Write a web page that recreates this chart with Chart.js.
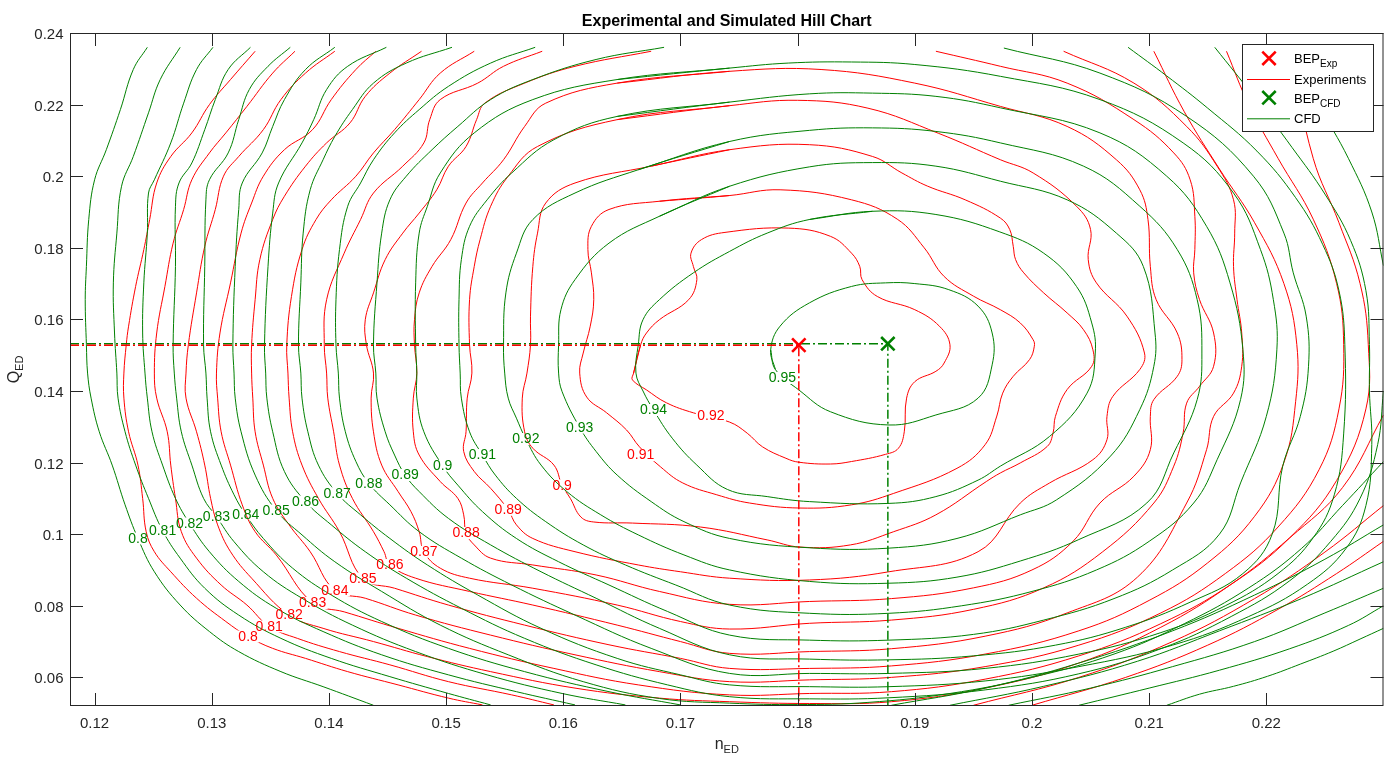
<!DOCTYPE html>
<html>
<head>
<meta charset="utf-8">
<script src="https://cdn.jsdelivr.net/npm/chart.js@4.4.1/dist/chart.umd.min.js"></script>
<style>
  html, body { margin: 0; padding: 0; background: #ffffff; }
  canvas { display: block; }
</style>
</head>
<body>
<canvas id="hill" width="1388" height="758"></canvas>
<script>
// ---------- axis ticks ----------
const xTicks = [0.12, 0.13, 0.14, 0.15, 0.16, 0.17, 0.18, 0.19, 0.20, 0.21, 0.22];
const yTicks = [0.06, 0.08, 0.10, 0.12, 0.14, 0.16, 0.18, 0.20, 0.22, 0.24];

// ---------- best efficiency points [nED, QED] ----------
const bepExp = [0.1801, 0.1528];
const bepCfd = [0.1877, 0.1532];

// ---------- contour levels ----------
const levelsCfd = [0.80, 0.81, 0.82, 0.83, 0.84, 0.85, 0.86, 0.87, 0.88, 0.89, 0.90, 0.91, 0.92, 0.93, 0.94, 0.95];
const levelsExp = [0.80, 0.81, 0.82, 0.83, 0.84, 0.85, 0.86, 0.87, 0.88, 0.89, 0.90, 0.91, 0.92];

// ---------- CFD efficiency contours: list of segments of [nED, QED] ----------
const cfd80 = [
  [[0.1245,0.2360],[0.1233,0.2298],[0.1222,0.2186],[0.1210,0.2074],[0.1200,0.1990],[0.1195,0.1879],[0.1193,0.1748],[0.1192,0.1655],[0.1193,0.1529],[0.1194,0.1450],[0.1197,0.1380],[0.1204,0.1286],[0.1215,0.1193],[0.1226,0.1082],[0.1237,0.0988],[0.1251,0.0895],[0.1273,0.0802],[0.1298,0.0728],[0.1323,0.0672],[0.1359,0.0616],[0.1395,0.0574],[0.1438,0.0522]],
  [[0.2115,0.0522],[0.2143,0.0553],[0.2172,0.0575],[0.2201,0.0603],[0.2229,0.0637],[0.2257,0.0673],[0.2280,0.0707],[0.2300,0.0737]]
];
const cfd81 = [
  [[0.1273,0.2360],[0.1256,0.2270],[0.1246,0.2177],[0.1233,0.2055],[0.1223,0.1972],[0.1219,0.1841],[0.1216,0.1702],[0.1217,0.1562],[0.1219,0.1450],[0.1220,0.1380],[0.1226,0.1286],[0.1235,0.1193],[0.1246,0.1100],[0.1258,0.1010],[0.1273,0.0933],[0.1294,0.0849],[0.1323,0.0774],[0.1359,0.0709],[0.1402,0.0653],[0.1452,0.0602],[0.1502,0.0555],[0.1538,0.0523]],
  [[0.2040,0.0522],[0.2100,0.0570],[0.2160,0.0620],[0.2220,0.0680],[0.2270,0.0745],[0.2300,0.0800]]
];
const cfd82 = [
  [[0.1301,0.2360],[0.1287,0.2298],[0.1276,0.2204],[0.1265,0.2093],[0.1251,0.1990],[0.1246,0.1953],[0.1245,0.1841],[0.1242,0.1702],[0.1241,0.1562],[0.1243,0.1450],[0.1245,0.1380],[0.1249,0.1286],[0.1258,0.1193],[0.1269,0.1100],[0.1281,0.1030],[0.1298,0.0951],[0.1323,0.0868],[0.1355,0.0793],[0.1395,0.0728],[0.1445,0.0663],[0.1502,0.0607],[0.1560,0.0560],[0.1610,0.0523]],
  [[0.1980,0.0522],[0.2050,0.0570],[0.2120,0.0630],[0.2190,0.0700],[0.2250,0.0780],[0.2300,0.0849]]
];
const cfd83 = [
  [[0.1333,0.2360],[0.1314,0.2298],[0.1303,0.2214],[0.1294,0.2130],[0.1283,0.2037],[0.1272,0.1981],[0.1269,0.1916],[0.1269,0.1748],[0.1267,0.1529],[0.1268,0.1450],[0.1270,0.1380],[0.1274,0.1286],[0.1283,0.1193],[0.1293,0.1100],[0.1304,0.1049],[0.1319,0.0979],[0.1344,0.0895],[0.1377,0.0821],[0.1420,0.0746],[0.1474,0.0672],[0.1535,0.0607],[0.1599,0.0555],[0.1653,0.0523]],
  [[0.1930,0.0522],[0.2010,0.0575],[0.2090,0.0645],[0.2160,0.0730],[0.2230,0.0820],[0.2300,0.0923]]
];
const cfd84 = [
  [[0.1367,0.2360],[0.1348,0.2307],[0.1332,0.2242],[0.1323,0.2158],[0.1314,0.2065],[0.1298,0.1990],[0.1295,0.1934],[0.1294,0.1748],[0.1293,0.1529],[0.1295,0.1450],[0.1296,0.1380],[0.1299,0.1286],[0.1308,0.1193],[0.1319,0.1110],[0.1329,0.1054],[0.1344,0.0988],[0.1369,0.0905],[0.1402,0.0830],[0.1445,0.0756],[0.1502,0.0681],[0.1567,0.0616],[0.1639,0.0560],[0.1700,0.0523]],
  [[0.1880,0.0522],[0.1960,0.0570],[0.2040,0.0640],[0.2120,0.0730],[0.2190,0.0830],[0.2250,0.0930],[0.2300,0.1026]]
];
const cfd85 = [
  [[0.1405,0.2360],[0.1380,0.2298],[0.1362,0.2214],[0.1352,0.2139],[0.1343,0.2065],[0.1326,0.1981],[0.1323,0.1907],[0.1320,0.1748],[0.1318,0.1529],[0.1319,0.1450],[0.1320,0.1380],[0.1325,0.1286],[0.1337,0.1165],[0.1355,0.1066],[0.1377,0.0998],[0.1405,0.0923],[0.1445,0.0840],[0.1495,0.0746],[0.1553,0.0663],[0.1617,0.0588],[0.1682,0.0541],[0.1742,0.0528],[0.1800,0.0524],[0.1860,0.0530],[0.1930,0.0555],[0.2000,0.0600],[0.2070,0.0665],[0.2130,0.0750],[0.2185,0.0850],[0.2230,0.0960],[0.2265,0.1080],[0.2300,0.1203]]
];
const cfd86 = [
  [[0.1449,0.2360],[0.1416,0.2307],[0.1398,0.2242],[0.1387,0.2158],[0.1377,0.2093],[0.1357,0.1981],[0.1352,0.1897],[0.1348,0.1748],[0.1345,0.1529],[0.1346,0.1450],[0.1347,0.1380],[0.1352,0.1286],[0.1362,0.1175],[0.1380,0.1091],[0.1402,0.1026],[0.1431,0.0951],[0.1466,0.0877],[0.1513,0.0793],[0.1567,0.0709],[0.1628,0.0635],[0.1689,0.0579],[0.1742,0.0546],[0.1810,0.0540],[0.1878,0.0543],[0.1960,0.0565],[0.2040,0.0610],[0.2110,0.0680],[0.2170,0.0770],[0.2220,0.0870],[0.2255,0.0980],[0.2280,0.1100],[0.2295,0.1250],[0.2300,0.1400]],
  [[0.2300,0.1750],[0.2290,0.1900],[0.2270,0.2050],[0.2245,0.2200],[0.2222,0.2360]]
];
const cfd87 = [
  [[0.1505,0.2360],[0.1466,0.2316],[0.1438,0.2260],[0.1420,0.2186],[0.1405,0.2111],[0.1395,0.2046],[0.1384,0.1962],[0.1378,0.1841],[0.1376,0.1702],[0.1374,0.1529],[0.1376,0.1450],[0.1377,0.1380],[0.1382,0.1286],[0.1391,0.1193],[0.1407,0.1114],[0.1427,0.1054],[0.1452,0.0988],[0.1484,0.0914],[0.1527,0.0830],[0.1581,0.0737],[0.1646,0.0653],[0.1700,0.0607],[0.1742,0.0579],[0.1810,0.0574],[0.1878,0.0574],[0.1960,0.0590],[0.2040,0.0630],[0.2120,0.0690],[0.2185,0.0770],[0.2235,0.0860],[0.2268,0.0960],[0.2285,0.1080],[0.2290,0.1250],[0.2288,0.1400],[0.2288,0.1530],[0.2285,0.1680],[0.2272,0.1820],[0.2250,0.1950],[0.2222,0.2080],[0.2190,0.2220],[0.2156,0.2360]]
];
const cfd88 = [
  [[0.1576,0.2360],[0.1538,0.2316],[0.1502,0.2251],[0.1477,0.2186],[0.1456,0.2121],[0.1438,0.2046],[0.1427,0.1981],[0.1416,0.1916],[0.1409,0.1795],[0.1406,0.1655],[0.1406,0.1529],[0.1408,0.1450],[0.1409,0.1380],[0.1414,0.1286],[0.1423,0.1203],[0.1434,0.1142],[0.1452,0.1082],[0.1477,0.1007],[0.1513,0.0933],[0.1556,0.0858],[0.1610,0.0774],[0.1675,0.0681],[0.1742,0.0611],[0.1810,0.0611],[0.1878,0.0611],[0.1960,0.0625],[0.2040,0.0665],[0.2110,0.0725],[0.2165,0.0800],[0.2210,0.0890],[0.2240,0.0990],[0.2258,0.1110],[0.2266,0.1280],[0.2267,0.1530],[0.2262,0.1680],[0.2248,0.1810],[0.2225,0.1940],[0.2192,0.2070],[0.2150,0.2190],[0.2115,0.2280],[0.2082,0.2360]]
];
const cfd89 = [
  [[0.1686,0.2360],[0.1628,0.2326],[0.1574,0.2270],[0.1538,0.2214],[0.1510,0.2139],[0.1488,0.2074],[0.1466,0.2000],[0.1452,0.1934],[0.1445,0.1841],[0.1441,0.1702],[0.1438,0.1529],[0.1440,0.1450],[0.1441,0.1380],[0.1448,0.1286],[0.1456,0.1221],[0.1465,0.1165],[0.1477,0.1119],[0.1502,0.1044],[0.1538,0.0970],[0.1581,0.0895],[0.1628,0.0821],[0.1682,0.0737],[0.1742,0.0663],[0.1810,0.0651],[0.1878,0.0649],[0.1950,0.0660],[0.2020,0.0690],[0.2080,0.0740],[0.2135,0.0810],[0.2180,0.0890],[0.2205,0.1000],[0.2214,0.1190],[0.2229,0.1329],[0.2236,0.1469],[0.2234,0.1609],[0.2223,0.1730],[0.2215,0.1841],[0.2189,0.2000],[0.2132,0.2167],[0.2058,0.2288],[0.1976,0.2358]]
];
const cfd90 = [
  [[0.1742,0.2302],[0.1646,0.2270],[0.1574,0.2214],[0.1524,0.2121],[0.1495,0.2009],[0.1484,0.1916],[0.1477,0.1841],[0.1474,0.1702],[0.1474,0.1529],[0.1475,0.1450],[0.1475,0.1380],[0.1481,0.1286],[0.1497,0.1191],[0.1510,0.1137],[0.1531,0.1063],[0.1560,0.0988],[0.1596,0.0923],[0.1639,0.0858],[0.1689,0.0784],[0.1742,0.0718],[0.1810,0.0704],[0.1878,0.0704],[0.1950,0.0720],[0.2010,0.0760],[0.2070,0.0820],[0.2120,0.0900],[0.2160,0.1000],[0.2178,0.1143],[0.2200,0.1329],[0.2209,0.1515],[0.2206,0.1655],[0.2195,0.1795],[0.2172,0.1953],[0.2129,0.2093],[0.2058,0.2214],[0.1973,0.2279],[0.1900,0.2312],[0.1846,0.2319],[0.1792,0.2316],[0.1742,0.2302],[0.1646,0.2270]]
];
const cfd91 = [
  [[0.1742,0.2207],[0.1646,0.2167],[0.1592,0.2102],[0.1556,0.2009],[0.1535,0.1934],[0.1520,0.1860],[0.1513,0.1767],[0.1511,0.1655],[0.1511,0.1529],[0.1512,0.1450],[0.1513,0.1380],[0.1520,0.1286],[0.1531,0.1221],[0.1542,0.1165],[0.1560,0.1100],[0.1585,0.1035],[0.1617,0.0970],[0.1653,0.0914],[0.1696,0.0858],[0.1742,0.0802],[0.1810,0.0779],[0.1878,0.0779],[0.1940,0.0800],[0.2000,0.0840],[0.2055,0.0900],[0.2100,0.0980],[0.2138,0.1087],[0.2158,0.1208],[0.2178,0.1376],[0.2180,0.1515],[0.2169,0.1702],[0.2149,0.1860],[0.2115,0.2000],[0.2058,0.2121],[0.1973,0.2191],[0.1918,0.2223],[0.1864,0.2232],[0.1810,0.2230],[0.1742,0.2207],[0.1646,0.2167]]
];
const cfd92 = [
  [[0.1742,0.2097],[0.1664,0.2018],[0.1610,0.1953],[0.1574,0.1879],[0.1560,0.1785],[0.1551,0.1674],[0.1549,0.1529],[0.1550,0.1450],[0.1553,0.1380],[0.1560,0.1324],[0.1568,0.1266],[0.1581,0.1193],[0.1603,0.1119],[0.1632,0.1054],[0.1664,0.0998],[0.1703,0.0942],[0.1742,0.0900],[0.1810,0.0868],[0.1878,0.0863],[0.1936,0.0880],[0.1990,0.0925],[0.2040,0.0985],[0.2098,0.1087],[0.2121,0.1227],[0.2141,0.1376],[0.2145,0.1506],[0.2141,0.1655],[0.2124,0.1795],[0.2092,0.1916],[0.2044,0.2028],[0.1973,0.2093],[0.1918,0.2125],[0.1864,0.2135],[0.1810,0.2128],[0.1742,0.2097],[0.1664,0.2018]]
];
const cfd93 = [
  [[0.1742,0.1972],[0.1682,0.1888],[0.1639,0.1813],[0.1610,0.1711],[0.1598,0.1627],[0.1596,0.1529],[0.1596,0.1450],[0.1599,0.1398],[0.1614,0.1298],[0.1628,0.1231],[0.1646,0.1165],[0.1675,0.1091],[0.1703,0.1035],[0.1742,0.0988],[0.1810,0.0962],[0.1878,0.0961],[0.1936,0.0988],[0.1990,0.1054],[0.2021,0.1096],[0.2067,0.1218],[0.2092,0.1348],[0.2104,0.1469],[0.2105,0.1562],[0.2095,0.1748],[0.2072,0.1841],[0.2030,0.1934],[0.1973,0.1986],[0.1918,0.2028],[0.1864,0.2038],[0.1810,0.2026],[0.1742,0.1972],[0.1682,0.1888]]
];
const cfd94 = [
  [[0.1810,0.1879],[0.1864,0.1902],[0.1918,0.1893],[0.1972,0.1845],[0.2010,0.1785],[0.2038,0.1692],[0.2051,0.1590],[0.2054,0.1506],[0.2047,0.1394],[0.2015,0.1273],[0.1973,0.1190],[0.1954,0.1151],[0.1918,0.1105],[0.1878,0.1086],[0.1810,0.1091],[0.1774,0.1105],[0.1740,0.1125],[0.1714,0.1193],[0.1693,0.1268],[0.1677,0.1347],[0.1668,0.1400],[0.1662,0.1450],[0.1664,0.1529],[0.1668,0.1599],[0.1682,0.1655],[0.1711,0.1730],[0.1742,0.1790],[0.1774,0.1841],[0.1810,0.1879],[0.1864,0.1902]]
];
const cfd95 = [
  [[0.1777,0.1515],[0.1781,0.1460],[0.1801,0.1403],[0.1828,0.1342],[0.1878,0.1305],[0.1918,0.1333],[0.1954,0.1380],[0.1966,0.1473],[0.1966,0.1562],[0.1954,0.1637],[0.1929,0.1683],[0.1900,0.1700],[0.1875,0.1702],[0.1846,0.1692],[0.1810,0.1646],[0.1785,0.1581],[0.1777,0.1515],[0.1781,0.1460]]
];

// ---------- experimental efficiency contours ----------
const exp80 = [
  [[0.1337,0.2349],[0.1316,0.2270],[0.1298,0.2200],[0.1283,0.2121],[0.1265,0.2055],[0.1253,0.1981],[0.1247,0.1879],[0.1242,0.1795],[0.1235,0.1692],[0.1229,0.1581],[0.1227,0.1529],[0.1225,0.1450],[0.1225,0.1380],[0.1229,0.1286],[0.1237,0.1193],[0.1241,0.1100],[0.1244,0.1007],[0.1251,0.0951],[0.1265,0.0895],[0.1287,0.0821],[0.1312,0.0756],[0.1331,0.0714],[0.1352,0.0681],[0.1380,0.0653],[0.1416,0.0616],[0.1459,0.0579],[0.1502,0.0542],[0.1531,0.0523]],
  [[0.2000,0.0522],[0.2080,0.0600],[0.2150,0.0690],[0.2210,0.0790],[0.2260,0.0890],[0.2300,0.0980]]
];
const exp81 = [
  [[0.1371,0.2349],[0.1352,0.2288],[0.1330,0.2195],[0.1312,0.2121],[0.1298,0.2065],[0.1283,0.1990],[0.1276,0.1907],[0.1267,0.1813],[0.1260,0.1692],[0.1253,0.1562],[0.1251,0.1450],[0.1253,0.1380],[0.1262,0.1286],[0.1265,0.1193],[0.1269,0.1100],[0.1274,0.1007],[0.1287,0.0933],[0.1308,0.0858],[0.1330,0.0802],[0.1349,0.0742],[0.1373,0.0709],[0.1409,0.0672],[0.1452,0.0635],[0.1502,0.0588],[0.1556,0.0551],[0.1592,0.0523]],
  [[0.1950,0.0522],[0.2040,0.0600],[0.2120,0.0700],[0.2190,0.0820],[0.2250,0.0950],[0.2300,0.1080]]
];
const exp82 = [
  [[0.1405,0.2349],[0.1380,0.2288],[0.1359,0.2214],[0.1344,0.2130],[0.1323,0.2055],[0.1310,0.2000],[0.1303,0.1907],[0.1294,0.1804],[0.1287,0.1674],[0.1280,0.1529],[0.1278,0.1450],[0.1278,0.1380],[0.1287,0.1286],[0.1294,0.1193],[0.1299,0.1100],[0.1305,0.1026],[0.1316,0.0951],[0.1334,0.0877],[0.1366,0.0774],[0.1395,0.0737],[0.1438,0.0700],[0.1484,0.0658],[0.1538,0.0616],[0.1610,0.0570],[0.1682,0.0542],[0.1742,0.0532],[0.1810,0.0527],[0.1880,0.0532],[0.1960,0.0570],[0.2040,0.0640],[0.2110,0.0740],[0.2170,0.0860],[0.2220,0.0990],[0.2265,0.1130],[0.2300,0.1333]]
];
const exp83 = [
  [[0.1440,0.2349],[0.1423,0.2298],[0.1402,0.2214],[0.1386,0.2130],[0.1362,0.2074],[0.1344,0.2000],[0.1334,0.1925],[0.1325,0.1841],[0.1316,0.1702],[0.1307,0.1562],[0.1304,0.1450],[0.1305,0.1380],[0.1308,0.1286],[0.1316,0.1193],[0.1326,0.1082],[0.1337,0.1007],[0.1355,0.0942],[0.1386,0.0808],[0.1413,0.0783],[0.1459,0.0737],[0.1520,0.0681],[0.1592,0.0625],[0.1664,0.0579],[0.1742,0.0551],[0.1810,0.0555],[0.1880,0.0560],[0.1960,0.0595],[0.2040,0.0660],[0.2110,0.0750],[0.2170,0.0860],[0.2220,0.0990],[0.2260,0.1150],[0.2285,0.1350],[0.2287,0.1530],[0.2280,0.1700],[0.2262,0.1870],[0.2240,0.2050],[0.2220,0.2349]]
];
const exp84 = [
  [[0.1479,0.2349],[0.1452,0.2288],[0.1431,0.2223],[0.1418,0.2149],[0.1398,0.2093],[0.1380,0.2028],[0.1362,0.1944],[0.1352,0.1879],[0.1341,0.1767],[0.1337,0.1655],[0.1334,0.1529],[0.1334,0.1450],[0.1335,0.1380],[0.1337,0.1286],[0.1344,0.1193],[0.1352,0.1100],[0.1366,0.1026],[0.1384,0.0951],[0.1405,0.0843],[0.1431,0.0821],[0.1474,0.0774],[0.1538,0.0718],[0.1610,0.0663],[0.1682,0.0616],[0.1742,0.0588],[0.1810,0.0593],[0.1880,0.0600],[0.1960,0.0630],[0.2040,0.0690],[0.2110,0.0780],[0.2165,0.0890],[0.2210,0.1020],[0.2245,0.1180],[0.2262,0.1350],[0.2266,0.1530],[0.2260,0.1700],[0.2240,0.1880],[0.2210,0.2050],[0.2185,0.2200],[0.2166,0.2349]]
];
const exp85 = [
  [[0.1524,0.2349],[0.1495,0.2288],[0.1477,0.2214],[0.1456,0.2130],[0.1438,0.2065],[0.1423,0.2000],[0.1402,0.1934],[0.1389,0.1879],[0.1377,0.1795],[0.1368,0.1664],[0.1364,0.1529],[0.1365,0.1450],[0.1366,0.1380],[0.1369,0.1286],[0.1377,0.1193],[0.1391,0.1100],[0.1409,0.1007],[0.1429,0.0876],[0.1456,0.0849],[0.1502,0.0802],[0.1567,0.0746],[0.1639,0.0691],[0.1700,0.0653],[0.1742,0.0625],[0.1810,0.0625],[0.1880,0.0632],[0.1960,0.0665],[0.2040,0.0730],[0.2100,0.0815],[0.2150,0.0920],[0.2190,0.1050],[0.2215,0.1200],[0.2225,0.1370],[0.2226,0.1530],[0.2215,0.1700],[0.2190,0.1870],[0.2160,0.2020],[0.2130,0.2180],[0.2104,0.2349]]
];
const exp86 = [
  [[0.1582,0.2349],[0.1549,0.2307],[0.1527,0.2260],[0.1495,0.2214],[0.1486,0.2158],[0.1481,0.2093],[0.1463,0.2028],[0.1438,0.1953],[0.1427,0.1879],[0.1413,0.1785],[0.1398,0.1655],[0.1396,0.1529],[0.1398,0.1450],[0.1399,0.1380],[0.1404,0.1286],[0.1409,0.1193],[0.1420,0.1100],[0.1438,0.1007],[0.1447,0.0951],[0.1452,0.0914],[0.1474,0.0877],[0.1520,0.0840],[0.1574,0.0802],[0.1646,0.0746],[0.1700,0.0700],[0.1742,0.0667],[0.1810,0.0672],[0.1880,0.0680],[0.1960,0.0715],[0.2030,0.0780],[0.2090,0.0880],[0.2132,0.1087],[0.2149,0.1236],[0.2155,0.1329],[0.2172,0.1394],[0.2179,0.1469],[0.2179,0.1562],[0.2175,0.1655],[0.2172,0.1748],[0.2173,0.1841],[0.2172,0.1934],[0.2158,0.2028],[0.2132,0.2139],[0.2087,0.2260],[0.2027,0.2349]]
];
const exp87 = [
  [[0.1675,0.2349],[0.1610,0.2307],[0.1567,0.2260],[0.1533,0.2204],[0.1526,0.2158],[0.1517,0.2083],[0.1502,0.2028],[0.1492,0.1962],[0.1477,0.1897],[0.1463,0.1841],[0.1448,0.1767],[0.1438,0.1674],[0.1431,0.1599],[0.1432,0.1529],[0.1438,0.1450],[0.1436,0.1380],[0.1438,0.1286],[0.1445,0.1193],[0.1459,0.1119],[0.1470,0.1063],[0.1477,0.1007],[0.1481,0.0951],[0.1495,0.0905],[0.1520,0.0877],[0.1574,0.0849],[0.1646,0.0802],[0.1700,0.0756],[0.1742,0.0735],[0.1810,0.0751],[0.1880,0.0760],[0.1950,0.0790],[0.2010,0.0850],[0.2060,0.0950],[0.2104,0.1087],[0.2121,0.1190],[0.2129,0.1283],[0.2132,0.1366],[0.2143,0.1413],[0.2155,0.1469],[0.2155,0.1562],[0.2143,0.1655],[0.2138,0.1730],[0.2139,0.1795],[0.2139,0.1888],[0.2135,0.1990],[0.2121,0.2065],[0.2087,0.2158],[0.2030,0.2260],[0.1973,0.2307],[0.1918,0.2349]]
];
const exp88 = [
  [[0.1742,0.2293],[0.1646,0.2260],[0.1585,0.2204],[0.1567,0.2139],[0.1549,0.2046],[0.1531,0.1981],[0.1517,0.1925],[0.1504,0.1823],[0.1488,0.1748],[0.1477,0.1674],[0.1473,0.1599],[0.1473,0.1529],[0.1475,0.1450],[0.1472,0.1380],[0.1472,0.1286],[0.1477,0.1221],[0.1495,0.1147],[0.1510,0.1100],[0.1515,0.1054],[0.1517,0.1003],[0.1524,0.0970],[0.1538,0.0933],[0.1574,0.0914],[0.1628,0.0886],[0.1682,0.0840],[0.1742,0.0804],[0.1810,0.0812],[0.1880,0.0820],[0.1950,0.0850],[0.2000,0.0900],[0.2035,0.0980],[0.2058,0.1087],[0.2087,0.1162],[0.2101,0.1236],[0.2101,0.1329],[0.2104,0.1376],[0.2124,0.1441],[0.2128,0.1488],[0.2124,0.1562],[0.2106,0.1655],[0.2101,0.1748],[0.2099,0.1879],[0.2092,0.1962],[0.2072,0.2046],[0.2030,0.2139],[0.1973,0.2195],[0.1900,0.2260],[0.1820,0.2298],[0.1742,0.2293],[0.1646,0.2260]]
];
const exp89 = [
  [[0.1742,0.2197],[0.1646,0.2158],[0.1578,0.2083],[0.1553,0.2000],[0.1538,0.1916],[0.1529,0.1823],[0.1524,0.1748],[0.1520,0.1655],[0.1520,0.1529],[0.1522,0.1450],[0.1518,0.1380],[0.1517,0.1286],[0.1515,0.1231],[0.1524,0.1175],[0.1538,0.1128],[0.1553,0.1068],[0.1560,0.1026],[0.1574,0.0988],[0.1610,0.0951],[0.1664,0.0914],[0.1700,0.0895],[0.1742,0.0877],[0.1810,0.0872],[0.1878,0.0895],[0.1954,0.0951],[0.1990,0.1087],[0.2015,0.1143],[0.2052,0.1208],[0.2064,0.1264],[0.2064,0.1329],[0.2069,0.1385],[0.2092,0.1460],[0.2096,0.1506],[0.2081,0.1609],[0.2055,0.1702],[0.2048,0.1767],[0.2050,0.1851],[0.2038,0.1916],[0.2001,0.2009],[0.1973,0.2046],[0.1920,0.2120],[0.1860,0.2190],[0.1800,0.2212],[0.1742,0.2197],[0.1646,0.2158]]
];
const exp90 = [
  [[0.1742,0.2074],[0.1675,0.2028],[0.1610,0.1981],[0.1585,0.1925],[0.1578,0.1841],[0.1574,0.1748],[0.1572,0.1609],[0.1572,0.1529],[0.1569,0.1450],[0.1565,0.1380],[0.1567,0.1286],[0.1574,0.1240],[0.1592,0.1193],[0.1599,0.1136],[0.1606,0.1100],[0.1615,0.1048],[0.1626,0.1034],[0.1659,0.1031],[0.1717,0.1020],[0.1774,0.0984],[0.1802,0.0964],[0.1845,0.0970],[0.1882,0.1007],[0.1918,0.1054],[0.1961,0.1147],[0.1973,0.1171],[0.1990,0.1199],[0.2013,0.1245],[0.2018,0.1283],[0.2020,0.1329],[0.2030,0.1404],[0.2051,0.1469],[0.2052,0.1515],[0.2044,0.1571],[0.2030,0.1618],[0.2010,0.1674],[0.1993,0.1730],[0.1986,0.1767],[0.1984,0.1804],[0.1981,0.1851],[0.1973,0.1883],[0.1943,0.1934],[0.1911,0.1972],[0.1889,0.2009],[0.1864,0.2055],[0.1810,0.2088],[0.1742,0.2074],[0.1675,0.2028]]
];
const exp91 = [
  [[0.1742,0.1946],[0.1682,0.1930],[0.1639,0.1907],[0.1624,0.1860],[0.1621,0.1795],[0.1624,0.1730],[0.1626,0.1655],[0.1623,0.1581],[0.1617,0.1506],[0.1614,0.1450],[0.1620,0.1383],[0.1637,0.1339],[0.1654,0.1291],[0.1665,0.1244],[0.1683,0.1188],[0.1702,0.1143],[0.1731,0.1110],[0.1759,0.1087],[0.1802,0.1073],[0.1846,0.1082],[0.1882,0.1114],[0.1936,0.1184],[0.1960,0.1250],[0.1970,0.1330],[0.1975,0.1394],[0.1984,0.1441],[0.1998,0.1488],[0.2002,0.1525],[0.2001,0.1543],[0.1990,0.1590],[0.1973,0.1627],[0.1950,0.1665],[0.1925,0.1720],[0.1908,0.1800],[0.1885,0.1880],[0.1846,0.1934],[0.1785,0.1962],[0.1742,0.1946],[0.1682,0.1930]]
];
const exp92 = [
  [[0.1666,0.1529],[0.1660,0.1450],[0.1659,0.1431],[0.1671,0.1403],[0.1688,0.1367],[0.1711,0.1339],[0.1742,0.1313],[0.1757,0.1282],[0.1770,0.1244],[0.1790,0.1212],[0.1801,0.1201],[0.1828,0.1196],[0.1846,0.1203],[0.1875,0.1223],[0.1886,0.1240],[0.1891,0.1286],[0.1893,0.1380],[0.1900,0.1426],[0.1918,0.1455],[0.1925,0.1478],[0.1930,0.1529],[0.1921,0.1581],[0.1900,0.1627],[0.1868,0.1664],[0.1855,0.1711],[0.1853,0.1748],[0.1846,0.1785],[0.1828,0.1832],[0.1792,0.1855],[0.1738,0.1843],[0.1718,0.1823],[0.1709,0.1785],[0.1711,0.1748],[0.1714,0.1711],[0.1707,0.1655],[0.1682,0.1599],[0.1671,0.1562],[0.1666,0.1529],[0.1660,0.1450]]
];

// ---------- inline contour labels [level, nED, QED] ----------
const labelsCfd = [[0.80,0.1237,0.0988],[0.81,0.1258,0.1010],[0.82,0.1281,0.1030],[0.83,0.1304,0.1049],[0.84,0.1329,0.1054],[0.85,0.1355,0.1066],[0.86,0.1380,0.1091],[0.87,0.1407,0.1114],[0.88,0.1434,0.1142],[0.89,0.1465,0.1165],[0.90,0.1497,0.1191],[0.91,0.1531,0.1221],[0.92,0.1568,0.1266],[0.93,0.1614,0.1298],[0.94,0.1677,0.1347],[0.95,0.1787,0.1436]];
const labelsExp = [[0.80,0.1331,0.0714],[0.81,0.1349,0.0742],[0.82,0.1366,0.0774],[0.83,0.1386,0.0808],[0.84,0.1405,0.0843],[0.85,0.1429,0.0876],[0.86,0.1452,0.0914],[0.87,0.1481,0.0951],[0.88,0.1517,0.1003],[0.89,0.1553,0.1068],[0.90,0.1599,0.1136],[0.91,0.1666,0.1221],[0.92,0.1726,0.1331]];

const cfdContours = [cfd80, cfd81, cfd82, cfd83, cfd84, cfd85, cfd86, cfd87, cfd88, cfd89, cfd90, cfd91, cfd92, cfd93, cfd94, cfd95];
const expContours = [exp80, exp81, exp82, exp83, exp84, exp85, exp86, exp87, exp88, exp89, exp90, exp91, exp92];

// ---------- styling ----------
const RED = '#ff0000';
const GREEN = '#008000';
const AXIS = '#262626';
const FONT = '"Liberation Sans", Arial, Helvetica, sans-serif';
const X_MIN = 0.1179, X_MAX = 0.2300, Y_MIN = 0.0520, Y_MAX = 0.2400;
const DASH_DOT = [9, 3, 2, 3];

const fmt = v => String(Number(v.toFixed(2)));
const toPts = seg => seg.map(p => ({ x: p[0], y: p[1] }));

const datasets = [];
// BEP markers (drawn on top)
datasets.push({ label: 'BEP Exp', data: [{ x: bepExp[0], y: bepExp[1] }], showLine: false,
  pointStyle: 'crossRot', pointRadius: 9.5, borderColor: RED, borderWidth: 2.6, order: 1 });
datasets.push({ label: 'BEP CFD', data: [{ x: bepCfd[0], y: bepCfd[1] }], showLine: false,
  pointStyle: 'crossRot', pointRadius: 9.5, borderColor: GREEN, borderWidth: 2.6, order: 1 });
// dash-dot guide lines from the axes to each BEP
datasets.push({ label: 'BEP Exp guide', data: [{ x: X_MIN, y: bepExp[1] }, { x: bepExp[0], y: bepExp[1] }, { x: bepExp[0], y: Y_MIN }],
  borderColor: RED, borderWidth: 1.5, borderDash: DASH_DOT, pointRadius: 0, tension: 0, order: 2 });
datasets.push({ label: 'BEP CFD guide', data: [{ x: X_MIN, y: bepCfd[1] }, { x: bepCfd[0], y: bepCfd[1] }, { x: bepCfd[0], y: Y_MIN }],
  borderColor: GREEN, borderWidth: 1.5, borderDash: DASH_DOT, pointRadius: 0, tension: 0, order: 2 });

cfdContours.forEach((segs, i) => segs.forEach(seg => datasets.push({
  label: 'CFD ' + fmt(levelsCfd[i]), data: toPts(seg), borderColor: GREEN, borderWidth: 1,
  pointRadius: 0, tension: 0.4, order: 3, level: levelsCfd[i], series: 'cfd'
})));
expContours.forEach((segs, i) => segs.forEach(seg => datasets.push({
  label: 'Exp ' + fmt(levelsExp[i]), data: toPts(seg), borderColor: RED, borderWidth: 1,
  pointRadius: 0, tension: 0.4, order: 4, level: levelsExp[i], series: 'exp'
})));

const LABEL_FONT = '14px ' + FONT;
const clipped = {};

const decor = {
  id: 'decor',
  // leave a gap in each contour where its inline label sits
  beforeDatasetDraw(chart, args) {
    const ds = chart.data.datasets[args.index];
    if (!ds.level) return;
    const list = ds.series === 'cfd' ? labelsCfd : labelsExp;
    const mine = list.filter(l => Math.abs(l[0] - ds.level) < 1e-6);
    if (!mine.length) return;
    const ctx = chart.ctx, xs = chart.scales.x, ys = chart.scales.y;
    ctx.save();
    ctx.font = LABEL_FONT;
    ctx.beginPath();
    ctx.rect(0, 0, chart.width, chart.height);
    mine.forEach(([lv, x, y]) => {
      const w = ctx.measureText(fmt(lv)).width + 3, h = 12;
      ctx.rect(xs.getPixelForValue(x) - w / 2, ys.getPixelForValue(y) - h / 2, w, h);
    });
    ctx.clip('evenodd');
    clipped[args.index] = true;
  },
  afterDatasetDraw(chart, args) {
    if (clipped[args.index]) { chart.ctx.restore(); clipped[args.index] = false; }
  },
  afterDraw(chart) {
    const ctx = chart.ctx, xs = chart.scales.x, ys = chart.scales.y, a = chart.chartArea;
    ctx.save();

    // inline contour labels
    ctx.font = LABEL_FONT;
    ctx.textAlign = 'center';
    ctx.textBaseline = 'middle';
    ctx.fillStyle = RED;
    labelsExp.forEach(([lv, x, y]) => ctx.fillText(fmt(lv), xs.getPixelForValue(x), ys.getPixelForValue(y) + 0.5));
    ctx.fillStyle = GREEN;
    labelsCfd.forEach(([lv, x, y]) => ctx.fillText(fmt(lv), xs.getPixelForValue(x), ys.getPixelForValue(y) + 0.5));

    // axes box
    ctx.strokeStyle = AXIS;
    ctx.lineWidth = 1;
    ctx.strokeRect(a.left + 0.5, a.top + 0.5, a.right - a.left - 1, a.bottom - a.top - 1);

    // inward tick marks on all four sides
    const TL = 13;
    ctx.beginPath();
    xTicks.forEach(v => {
      const px = Math.round(xs.getPixelForValue(v)) + 0.5;
      ctx.moveTo(px, a.bottom); ctx.lineTo(px, a.bottom - TL);
      ctx.moveTo(px, a.top); ctx.lineTo(px, a.top + TL);
    });
    yTicks.forEach(v => {
      const py = Math.round(ys.getPixelForValue(v)) + 0.5;
      ctx.moveTo(a.left, py); ctx.lineTo(a.left + TL, py);
      ctx.moveTo(a.right, py); ctx.lineTo(a.right - TL, py);
    });
    ctx.stroke();

    // tick labels
    ctx.fillStyle = AXIS;
    ctx.font = '15px ' + FONT;
    ctx.textBaseline = 'alphabetic';
    ctx.textAlign = 'center';
    xTicks.forEach(v => ctx.fillText(fmt(v), xs.getPixelForValue(v), a.bottom + 21.5));
    ctx.textAlign = 'right';
    yTicks.forEach(v => ctx.fillText(fmt(v), a.left - 6.5, ys.getPixelForValue(v) + 6));

    // axis titles with subscripts
    const cx = (a.left + a.right) / 2, cy = (a.top + a.bottom) / 2;
    const big = '16px ' + FONT, small = '11px ' + FONT;
    ctx.textAlign = 'left';
    ctx.font = big; const wn = ctx.measureText('n').width;
    ctx.font = small; const we = ctx.measureText('ED').width;
    let sx = cx - (wn + we) / 2;
    ctx.font = big; ctx.fillText('n', sx, 749);
    ctx.font = small; ctx.fillText('ED', sx + wn, 753);

    ctx.save();
    ctx.translate(0, cy);
    ctx.rotate(-Math.PI / 2);
    ctx.font = big; const wq = ctx.measureText('Q').width;
    ctx.font = small; const we2 = ctx.measureText('ED').width;
    sx = -(wq + we2) / 2;
    ctx.font = big; ctx.fillText('Q', sx, 19);
    ctx.font = small; ctx.fillText('ED', sx + wq, 23);
    ctx.restore();

    // title
    ctx.fillStyle = '#000000';
    ctx.font = 'bold 16px ' + FONT;
    ctx.textAlign = 'center';
    ctx.fillText('Experimental and Simulated Hill Chart', cx, 26);

    // legend
    const lx = a.right - 141.5, ly = a.top + 11, lw = 131, lh = 87;
    ctx.fillStyle = '#ffffff';
    ctx.fillRect(lx, ly, lw, lh);
    ctx.strokeStyle = AXIS;
    ctx.lineWidth = 1;
    ctx.strokeRect(lx + 0.5, ly + 0.5, lw, lh);
    const mx = lx + 27, tx = lx + 52;
    const rows = [ly + 14.3, ly + 35, ly + 53.7, ly + 74.3];
    const cross = (x, y, col) => {
      ctx.strokeStyle = col; ctx.lineWidth = 2.6;
      ctx.beginPath();
      ctx.moveTo(x - 6.7, y - 6.7); ctx.lineTo(x + 6.7, y + 6.7);
      ctx.moveTo(x + 6.7, y - 6.7); ctx.lineTo(x - 6.7, y + 6.7);
      ctx.stroke();
    };
    const sample = (y, col) => {
      ctx.strokeStyle = col; ctx.lineWidth = 1;
      ctx.beginPath(); ctx.moveTo(lx + 5, y + 0.5); ctx.lineTo(lx + 48, y + 0.5); ctx.stroke();
    };
    const subText = (main, sub, y) => {
      ctx.fillStyle = '#000000';
      ctx.font = '13px ' + FONT; ctx.textAlign = 'left';
      ctx.fillText(main, tx, y + 5);
      const w = ctx.measureText(main).width;
      ctx.font = '10px ' + FONT;
      ctx.fillText(sub, tx + w, y + 9);
    };
    cross(mx, rows[0], RED); subText('BEP', 'Exp', rows[0]);
    sample(rows[1], RED);
    ctx.fillStyle = '#000000'; ctx.font = '13px ' + FONT; ctx.fillText('Experiments', tx, rows[1] + 5);
    cross(mx, rows[2], GREEN); subText('BEP', 'CFD', rows[2]);
    sample(rows[3], GREEN);
    ctx.fillStyle = '#000000'; ctx.font = '13px ' + FONT; ctx.fillText('CFD', tx, rows[3] + 5);

    ctx.restore();
  }
};

new Chart(document.getElementById('hill'), {
  type: 'line',
  data: { datasets },
  options: {
    responsive: false,
    devicePixelRatio: 1,
    animation: false,
    events: [],
    layout: { autoPadding: false, padding: { left: 70, right: 4.5, top: 33, bottom: 52 } },
    scales: {
      x: { type: 'linear', min: X_MIN, max: X_MAX, display: false },
      y: { type: 'linear', min: Y_MIN, max: Y_MAX, display: false }
    },
    plugins: { legend: { display: false }, tooltip: { enabled: false }, title: { display: false } }
  },
  plugins: [decor]
});
</script>
</body>
</html>
